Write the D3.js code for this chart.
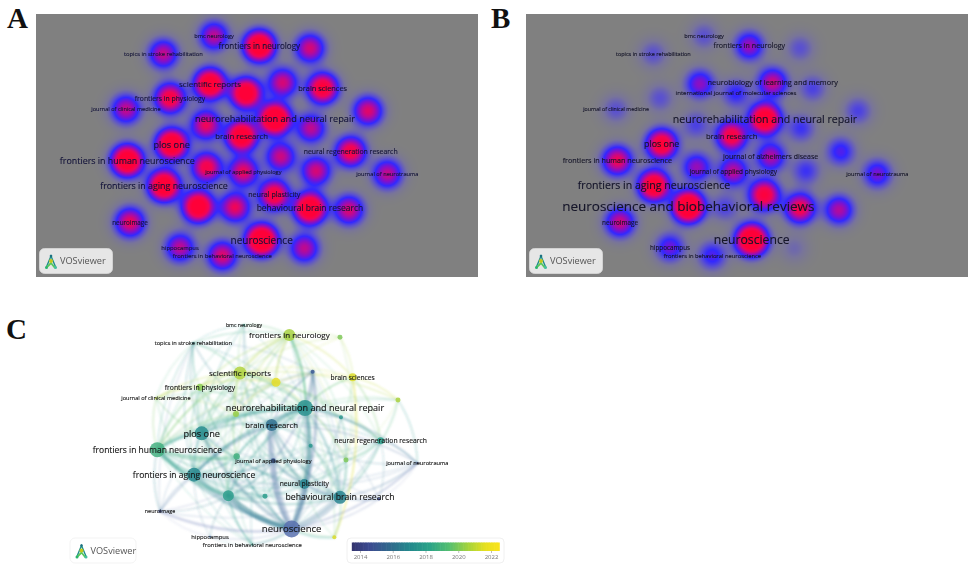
<!DOCTYPE html>
<html><head><meta charset="utf-8">
<script src="https://d3js.org/d3.v7.min.js"></script>
<style>html,body{margin:0;padding:0;background:#fff;overflow:hidden}svg{display:block}text{font-family:"Open Sans",sans-serif}</style>
</head><body><svg id="chart" width="972" height="569" viewBox="0 0 972 569"></svg>
<script>
// ---------- data ----------
const journals = ["bmc neurology","frontiers in neurology","","topics in stroke rehabilitation","scientific reports","international journal of molecular sciences","neurobiology of learning and memory","brain sciences","frontiers in physiology","journal of clinical medicine","","neurorehabilitation and neural repair","","","brain research","plos one","neural regeneration research","frontiers in human neuroscience","","journal of alzheimers disease","journal of applied physiology","","journal of neurotrauma","frontiers in aging neuroscience","neural plasticity","neuroscience and biobehavioral reviews","","behavioural brain research","","neuroimage","neuroscience","hippocampus","","frontiers in behavioral neuroscience"];
const mapX = [552,688,840,400,540,648,758,878,420,288,1014,735,528,843,635,425,962,292,530,752,640,858,1072,402,733,505,615,840,957,300,695,450,823,577];
const mapY = [78,108,115,132,222,250,218,235,265,298,303,327,345,355,378,403,425,452,472,440,485,483,492,527,555,590,592,595,600,637,690,713,715,737];
const densityA = [.7,1.6,.78,.72,1.5,1.45,.78,1.25,1.1,.72,.82,1.8,.88,.7,1.5,1.6,1.05,1.65,1.0,.75,.88,.78,.72,1.6,1.15,1.5,.88,1.65,.8,.88,1.8,.7,.7,.82];
const densityB = [.2,.6,.2,.2,.55,.35,.75,.25,.2,.2,.25,1.55,.25,.3,1.1,1.25,.4,.9,.58,.66,.7,.3,.5,1.45,1.15,1.8,.25,1.0,.66,.75,1.8,.48,.12,.4];
const avgYear = [2018,2020.6,2020,2016.8,2020.8,2021.8,2015,2021.5,2020.2,2021,2020.7,2017.4,2020.4,2017.7,2016,2017.2,2018,2018.8,2018.8,2017.6,2015,2020,2014.5,2017,2016.8,2018,2018,2016.8,2014.5,2014.2,2014.8,2015,2021.5,2018];
const documents = [1.4,50,8.6,1.4,58,28,5.5,22,17,1.4,8.6,89,12.5,5.5,50,68,17,78,14,5.5,8.6,8.6,1.4,68,35,42,8.6,58,3,3,100,1.4,5.5,1.4];
const linkSource = [30,30,30,30,30,30,30,30,30,30,11,11,11,11,11,11,11,11,11,11,11,11,11,14,14,14,14,14,14,15,15,15,17,17,17,23,25,25,25,25,25,25,4,4,4,4,4,4,4,1,1,1,1,1,1,1,1,1,1,5,5,5,8,8,8,8,9,9,3,3,3,3,3,3,3,0,0,0,2,2,2,7,7,7,10,10,10,22,22,22,22,22,22,16,16,16,16,19,19,19,21,21,21,24,24,26,26,27,28,29,29,29,29,29,31,31,31,31,32,32,32,33,33,33,33,18,18,18,18,18,12,12,20,20,20,20,7,7];
const linkTarget = [14,27,24,25,23,11,6,20,15,17,14,27,6,15,17,24,23,25,4,1,7,16,13,27,15,23,20,24,6,17,23,4,23,25,18,25,27,26,18,20,33,30,1,5,8,12,10,9,17,5,8,3,0,2,7,12,24,18,11,7,12,21,9,17,15,23,17,12,4,6,15,17,14,23,0,15,11,23,7,21,5,21,16,10,16,22,21,27,30,11,14,16,28,27,30,28,14,30,14,27,24,27,11,27,26,30,11,28,30,30,23,17,14,25,30,25,29,23,30,27,25,30,25,23,31,23,30,14,11,12,11,17,24,23,27,6,32,11];
const linkStrength = [5,4.5,4,4,3,3.5,2.5,3.5,2.5,2.5,3,2,2.5,2.5,2.5,2.5,2,2,2,1.5,1,1.5,1.5,2,1.5,2,2.5,2.5,1.5,2,2,1.5,3,3,3,3.5,1.5,1.5,2,1.5,1,4,2,2,2,1.5,1,1,1.5,1.5,1,1,.8,.8,1,1,1,1,1.5,.8,1,.8,1.2,1.5,1,1,1,.6,1,.8,1,.8,1,.8,.6,.6,.6,.5,.8,.6,.6,.6,1.2,.6,.6,1,.5,1.5,1.5,1.5,1,.8,.6,1,.8,.6,.8,1.5,1,1,.8,.8,.8,1.5,1,1.5,1,.8,.8,2,1,1,.8,.8,.8,.8,.5,.6,1.5,1.2,.5,1,1,.7,.4,1.5,1.5,1,1.5,1,1,1,1.5,1.5,1,1.5,1.2,.8];
const faintSource = [4,4,4,4,4,4,4,4,4,4,4,5,5,5,5,5,5,5,5,5,1,1,1,1,1,1,1,1,1,8,8,8,8,8,8,8,8,9,9,9,9,12,12,12,12,12,12,13,13,13,13,13,13,21,21,21,21,21,18,18,18,18,19,19,19,19,20,20,20,26,26,26,26,24,24,24,24,24,27,27,27,27,28,28,28,29,29,29,32,32,32,33,33,33,33,0,0,0,0,3,3,3,3,3,6,6,6,6,6,6,10,10,10,10,16,16,16,16,16,22,22,22];
const faintTarget = [14,23,25,18,2,7,13,16,24,27,30,11,15,17,8,9,13,23,16,24,15,17,23,14,13,21,27,30,16,11,12,14,18,25,24,27,30,15,18,23,11,15,14,23,25,27,24,24,27,30,14,16,7,30,14,13,16,27,15,24,27,33,11,23,25,17,15,17,29,23,17,14,15,23,17,15,25,28,23,15,17,4,14,11,24,15,11,27,24,11,7,17,14,27,15,4,17,14,30,8,9,11,25,29,15,17,23,25,27,24,11,7,27,14,24,17,23,25,21,24,23,19];
const yearTicks = [2014,2016,2018,2020,2022];
const panelTitles = ["A","B","C"];
const logoName = "VOSviewer";

// ---------- label sizes (px), one table per panel ----------
const labelPxA = {0:5.7,1:8.1,3:5.8,4:8,7:7.4,8:6.8,9:5.6,11:9.2,14:7.8,15:9.2,16:6.9,17:8.9,20:5.7,22:5.7,23:8.9,24:7.1,27:8.5,29:6.3,30:10,31:5.9,33:5.9};
const labelPxB = {0:5.7,1:7.1,3:5.5,6:7.4,5:6.1,9:5.3,11:10.6,14:7.6,15:8.9,17:7.2,19:7,20:6.5,22:5.7,23:10.6,25:13.5,29:6.4,30:12.2,31:6.3,33:5.8};
const labelPxC = {0:5.2,1:8,3:5.7,4:8,7:6.7,8:6.8,9:5.6,11:9.1,14:7.8,15:9.2,16:6.8,17:8.5,20:5.7,22:5.7,23:8.5,24:6.7,27:8.7,29:5.4,30:9.6,31:5.9,33:5.9};

// ---------- scales ----------
const svg = d3.select("#chart");
const xA = d3.scaleLinear().domain([0,1350]).range([30,480]);
const xB = d3.scaleLinear().domain([0,1350]).range([520,970]);
const xC = d3.scaleLinear().domain([0,1350]).range([60,510]);
const yAB = d3.scaleLinear().domain([0,810]).range([10,280]);
const yC = d3.scaleLinear().domain([0,810]).range([299,569]);
const densityColor = d3.scaleLinear()
  .domain([0,.08,.2,.33,.5,.68,.88,1.2])
  .range(["#808080","#78749a","#5a50d0","#3228ff","#7a12d0","#b80a96","#f00458","#ff0038"])
  .interpolate(d3.interpolateRgb).clamp(true);
const yearColor = d3.scaleLinear()
  .domain([2013.5,2014.5,2016,2017,2018.2,2019.4,2020.6,2021.6,2022.4])
  .range(["#34356f","#3c4a90","#2f6f8c","#23898c","#2ba388","#55bf70","#a8d43a","#e6e020","#f8e31c"]).clamp(true);
const linkColor = d=>d3.interpolateRgb(yearColor(d),"#b8c8f0")(d<2016?.35:.05);
const radius = d3.scaleSqrt().domain([0,100]).range([0,8.5]);

const defs = svg.append("defs");
[["soft",.32],["soft2",.85]].forEach(([id,s])=>defs.append("filter").attr("id",id).attr("x","-5%").attr("y","-5%").attr("width","110%").attr("height","110%")
   .append("feGaussianBlur").attr("stdDeviation",s));

const idx = d3.range(journals.length);

function drawDensity(x, weights, px0, px1){
  const y0 = 14, y1 = 277, w = px1-px0, h = y1-y0, sig2 = 183;
  const cv = document.createElement("canvas"); cv.width = w; cv.height = h;
  const g = cv.getContext("2d"), im = g.createImageData(w,h);
  const cx = idx.map(i=>x(mapX[i])), cy = idx.map(i=>yAB(mapY[i]));
  for(let j=0;j<h;j++) for(let i=0;i<w;i++){
    let v=0; const pxx=px0+i+.5, pyy=y0+j+.5;
    for(const k of idx){ const dx=pxx-cx[k], dy=pyy-cy[k], d=dx*dx+dy*dy; if(d<2500) v+=weights[k]*Math.exp(-d/sig2); }
    const c = d3.rgb(densityColor(v)), o=(j*w+i)*4;
    im.data[o]=c.r; im.data[o+1]=c.g; im.data[o+2]=c.b; im.data[o+3]=255;
  }
  g.putImageData(im,0,0);
  svg.append("image").attr("x",px0).attr("y",y0).attr("width",w).attr("height",h).attr("href",cv.toDataURL());
}
function drawLabels(x, y, sizes, fill){
  svg.append("g").attr("filter","url(#soft)").attr("text-anchor","middle").attr("fill",fill)
    .attr("stroke",fill).attr("stroke-width",.12)
    .selectAll("text").data(idx.filter(i=>sizes[i])).join("text")
    .attr("x",i=>x(mapX[i])).attr("y",i=>y(mapY[i])).attr("dy","0.35em")
    .attr("font-size",i=>sizes[i]).text(i=>journals[i]);
}
function drawLogo(left, top, w, h, fill, stroke){
  const g = svg.append("g").attr("transform",`translate(${left},${top})`);
  g.append("rect").attr("width",w).attr("height",h).attr("rx",5).attr("fill",fill).attr("stroke",stroke).attr("stroke-width",.8);
  const m = g.append("g").attr("filter","url(#soft)").attr("transform",`translate(11.5,${h/2+1})`);
  m.append("path").attr("d",d3.line()([[-5,6],[0,-6],[5,6]])).attr("fill","none").attr("stroke","#1f8f8a").attr("stroke-width",1.4);
  m.append("path").attr("d",d3.line()([[-4,5],[0,1],[4,6]])).attr("fill","none").attr("stroke","#58c85a").attr("stroke-width",1.8);
  m.append("circle").attr("cx",0).attr("cy",-1).attr("r",2).attr("fill","#c4c81e");
  m.append("circle").attr("cx",0).attr("cy",-6).attr("r",1.3).attr("fill","#1e6f80");
  m.append("circle").attr("cx",-4.5).attr("cy",5.5).attr("r",1.5).attr("fill","#2ab56e");
  m.append("circle").attr("cx",4.5).attr("cy",5.5).attr("r",1.5).attr("fill","#45c0a0");
  g.append("text").attr("x",20.5).attr("y",h/2).attr("dy","0.36em").attr("font-size",9.2).attr("fill","#555").attr("filter","url(#soft)").text(logoName);
}

// ---------- panels A and B ----------
drawDensity(xA, densityA, 36, 478);
drawLabels(xA, yAB, labelPxA, "#14143a");
drawLogo(39.5, 248.5, 73, 25, "#e6e6e6", "#d8d8d8");
drawDensity(xB, densityB, 526, 968);
drawLabels(xB, yAB, labelPxB, "#141428");
drawLogo(529.5, 248.5, 73, 25, "#e6e6e6", "#d8d8d8");

// ---------- panel C ----------
const links = linkSource.map((s,i)=>({s, t:linkTarget[i], w:linkStrength[i]}))
  .concat(faintSource.map((s,i)=>({s, t:faintTarget[i], w:.7})));
const mid = [xC(675), yC(400)];
const linkPath = d=>{
  const x1=xC(mapX[d.s]), y1=yC(mapY[d.s]), x2=xC(mapX[d.t]), y2=yC(mapY[d.t]);
  const mx=(x1+x2)/2, my=(y1+y2)/2; let nx=-(y2-y1), ny=x2-x1;
  if(nx*(mx-mid[0])+ny*(my-mid[1])<0){nx=-nx;ny=-ny;}
  const p=d3.path(); p.moveTo(x1,y1); p.quadraticCurveTo(mx+nx*.14,my+ny*.14,x2,y2); return p.toString();
};
svg.append("g").attr("fill","none").attr("filter","url(#soft2)")
  .selectAll("path").data(links.slice().sort((a,b)=>a.w-b.w)).join("path")
  .attr("d",linkPath)
  .attr("stroke",d=>linkColor((avgYear[d.s]+avgYear[d.t])/2))
  .attr("stroke-width",d=>d.w*1.35).attr("stroke-opacity",.3).attr("stroke-linecap","round");
svg.append("g").attr("filter","url(#soft)").selectAll("circle").data(idx).join("circle")
  .attr("cx",i=>xC(mapX[i])).attr("cy",i=>yC(mapY[i])).attr("r",i=>radius(documents[i]))
  .attr("fill",i=>d3.interpolateRgb(yearColor(avgYear[i]),"#8fa0e0")(avgYear[i]<2015.5&&documents[i]>20?.4:.05)).attr("fill-opacity",.85);
drawLabels(xC, yC, labelPxC, "#161616");
drawLogo(70, 538, 66, 25, "#ffffff", "#f0f0f0");

// colour bar
const barG = svg.append("g");
barG.append("rect").attr("x",347).attr("y",538).attr("width",157).attr("height",25).attr("rx",4).attr("fill","#fff").attr("stroke","#f0f0f0");
const yearX = d3.scaleLinear().domain([2014,2022]).range([360,491]);
const barYears = d3.range(2013.5,2022.45,.1);
barG.selectAll("rect.c").data(barYears).join("rect").attr("class","c")
  .attr("x",d=>yearX(d)).attr("y",542.5).attr("width",yearX(.1)-yearX(0)+.6).attr("height",8.5).attr("fill",d=>yearColor(d));
barG.append("g").attr("transform","translate(0,551)")
  .call(d3.axisBottom(yearX).tickValues(yearTicks).tickFormat(d3.format("d")).tickSize(2).tickPadding(2))
  .call(a=>a.select(".domain").remove())
  .call(a=>a.selectAll("line").attr("stroke","#bbb"))
  .call(a=>a.selectAll("text").attr("font-size",6).attr("fill","#777").attr("font-family","Open Sans").attr("filter","url(#soft)"));

// ---------- panel letters ----------
svg.append("g").attr("font-weight","bold").attr("fill","#111").selectAll("text")
  .data(panelTitles).join("text").text(d=>d)
  .style("font-family","'Liberation Serif',serif").attr("font-size",29)
  .attr("x",(d,i)=>[7,491,6][i]).attr("y",(d,i)=>[28,28,339][i]);
</script></body></html>
